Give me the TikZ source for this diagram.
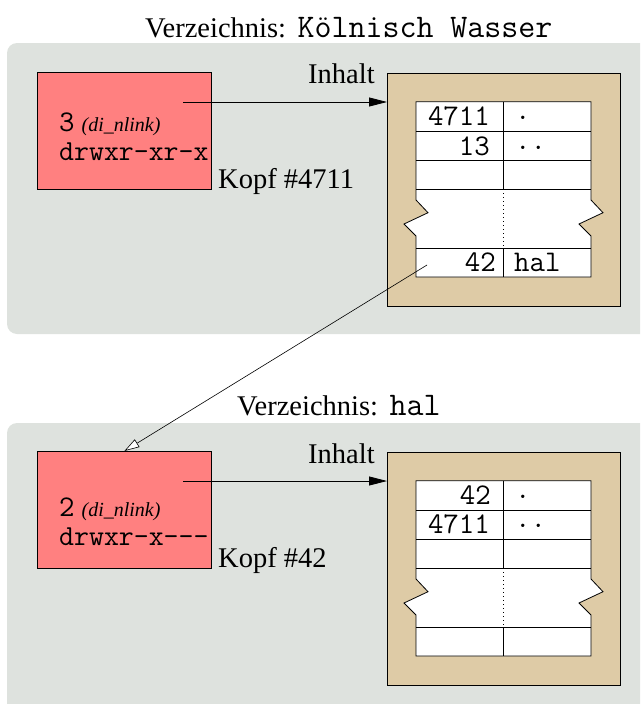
\documentclass[tikz,border=0pt]{standalone}
\usepackage{fontspec}
\setmainfont{Liberation Serif}
\usetikzlibrary{arrows.meta}

\definecolor{dirgrey}{RGB}{222,226,222}
\definecolor{inodered}{RGB}{255,128,128}
\definecolor{blocktan}{RGB}{222,203,166}

\begin{document}
\begin{tikzpicture}[x=1pt,y=-1pt]
\tikzstyle{panel}=[fill=dirgrey, rounded corners=10pt]
\tikzstyle{inode}=[draw, fill=inodered, line width=0.8pt, inner sep=0pt, minimum width=174pt, minimum height=117pt, anchor=north west]
\tikzstyle{block}=[draw, fill=blocktan, line width=0.8pt, inner sep=0pt, minimum width=233pt, minimum height=233.5pt, anchor=north west]
\tikzstyle{label}=[inner sep=0pt, anchor=base west, font=\fontsize{28.5}{28.5}\selectfont]
\tikzstyle{entry}=[inner sep=0pt, font=\fontsize{30}{30}\selectfont\ttfamily]
\tikzstyle{ptr}=[line width=0.8pt, -{Triangle[length=18pt,width=9pt]}]
\tikzstyle{link}=[line width=0.6pt, -{Triangle[open,length=15pt,width=9pt,fill=white]}]

\useasboundingbox (0,0) rectangle (640,704);
\clip (0,0) rectangle (640,704);

\fill[panel] (7,43) rectangle (660,334);
\fill[panel] (7,423) rectangle (660,730); % runs off the page on purpose

% both data blocks look the same, only the entries differ
\foreach \o/\n in {0/A,379/B}{
\begin{scope}[yshift=-\o pt]
  \node[block] (block\n) at (387,72.7) {};
  \filldraw[fill=white, line width=0.8pt] (416,101.7) -- (591,101.7) -- (591,200) -- (603,212.7) -- (579,224) -- (591,236) --
      (591,277) -- (416,277) -- (416,236) -- (404,224) -- (428,212.7) -- (416,200) -- cycle;
  \foreach \r in {131,160,189,248} \draw[line width=0.8pt] (416,\r) -- (591,\r);
  \draw[line width=0.8pt] (503,101.7) -- (503,189) (503,248) -- (503,277);
  \draw[line width=0.8pt, dash pattern=on 1pt off 3pt] (503,189) -- (503,248);
\end{scope}
}

% directory Koelnisch Wasser
\node[label] (titleA) at (145,37) {Verzeichnis:\hspace{2pt} {\fontsize{33}{33}\selectfont\ttfamily Kölnisch Wasser}};
\node[inode] (kopfA) at (37,72) {};
\node[inner sep=0pt, anchor=base west] (linkA) at (59,131)
      {{\fontsize{30}{30}\selectfont\ttfamily 3}\hspace{7pt}{\fontsize{20}{20}\selectfont\itshape (di\_nlink)}};
\node[inner sep=0pt, anchor=base west, font=\fontsize{29}{29}\selectfont\ttfamily] (modeA) at (59,160) {drwxr-xr-x};
\node[label] (nameA) at (218,188) {Kopf \#4711};
\node[label] (inhaltA) at (308,83) {Inhalt};

\node[entry, anchor=base east] (numA1) at (490,125) {4711};
\node[entry, anchor=base east] (numA2) at (490,155) {13};
\node[entry, anchor=base east] (numA3) at (496,271) {42};
\node[entry, anchor=base west] (fileA1) at (515,119) {.};
\node[entry, anchor=base west] (fileA2) at (515,149) {..};
\node[entry, anchor=base west] (fileA3) at (514,271) {hal};

% directory hal
\node[label] (titleB) at (237,415) {Verzeichnis:\hspace{2pt} {\fontsize{33}{33}\selectfont\ttfamily hal}};
\node[inode] (kopfB) at (37,451) {};
\node[inner sep=0pt, anchor=base west] (linkB) at (59,516)
      {{\fontsize{30}{30}\selectfont\ttfamily 2}\hspace{7pt}{\fontsize{20}{20}\selectfont\itshape (di\_nlink)}};
\node[inner sep=0pt, anchor=base west, font=\fontsize{29}{29}\selectfont\ttfamily] (modeB) at (59,545) {drwxr-x---};
\node[label] (nameB) at (218,567) {Kopf \#42};
\node[label] (inhaltB) at (308,463) {Inhalt};

\node[entry, anchor=base east] (numB1) at (491,504) {42};
\node[entry, anchor=base east] (numB2) at (490,533) {4711};
\node[entry, anchor=base west] (fileB1) at (515,498) {.};
\node[entry, anchor=base west] (fileB2) at (515,527) {..};

\coordinate (ptrA) at (183,102);
\coordinate (ptrB) at (183,481);
\coordinate (entA) at (427,265);
\draw[ptr] (ptrA) -- (ptrA -| blockA.west);
\draw[ptr] (ptrB) -- (ptrB -| blockB.west);
\draw[link] (entA) -- (kopfB.north);
\end{tikzpicture}
\end{document}
